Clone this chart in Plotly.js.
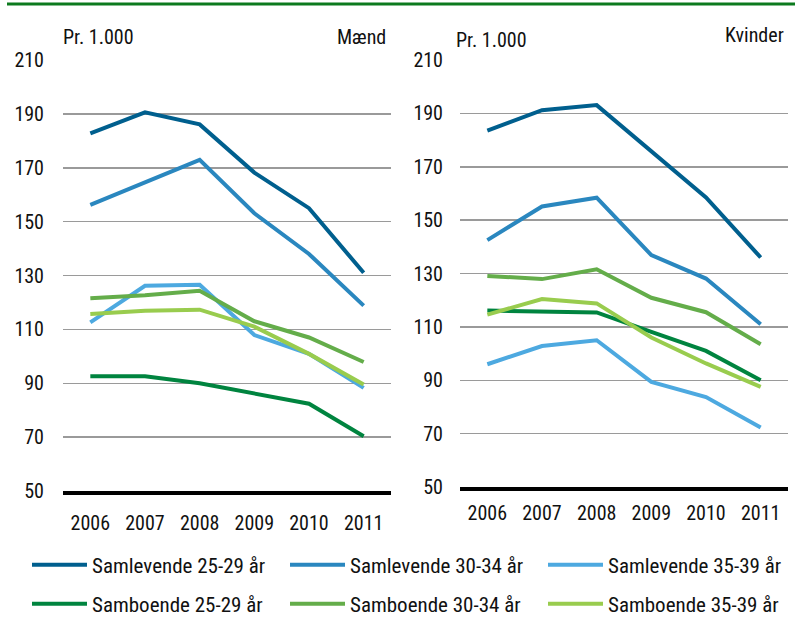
<!DOCTYPE html>
<html>
<head>
<meta charset="utf-8">
<script src="https://cdn.plot.ly/plotly-3.0.1.min.js"></script>
<style>html,body{margin:0;padding:0;background:#fff;}#chart{width:801px;height:625px;}</style>
</head>
<body>
<div id="chart"></div>
<script>
const years = ['2006','2007','2008','2009','2010','2011'];
const seriesNames = ['Samlevende 25-29 år','Samlevende 30-34 år','Samlevende 35-39 år','Samboende 25-29 år','Samboende 30-34 år','Samboende 35-39 år'];
const colors = ['#005f8e','#2a87bf','#4da9e0','#00843f','#64ad4a','#99cc4e'];

// Mænd
const maendSamlevende2529 = [182.8, 190.6, 186.1, 168.2, 155.0, 131.0];
const maendSamlevende3034 = [156.2, 164.7, 172.9, 153.1, 138.0, 118.8];
const maendSamlevende3539 = [112.6, 126.2, 126.6, 107.9, 100.9, 88.3];
const maendSamboende2529 = [92.6, 92.6, 90.0, 86.3, 82.4, 70.3];
const maendSamboende3034 = [121.6, 122.7, 124.3, 113.0, 107.0, 97.9];
const maendSamboende3539 = [115.7, 116.9, 117.3, 111.0, 100.9, 89.5];

// Kvinder
const kvinderSamlevende2529 = [183.5, 191.2, 193.1, 175.6, 158.5, 136.0];
const kvinderSamlevende3034 = [142.5, 155.1, 158.4, 136.9, 128.1, 111.0];
const kvinderSamlevende3539 = [96.0, 102.8, 105.0, 89.4, 83.7, 72.3];
const kvinderSamboende2529 = [116.1, 115.9, 115.4, 108.1, 101.0, 90.0];
const kvinderSamboende3034 = [129.1, 127.9, 131.6, 120.9, 115.5, 103.5];
const kvinderSamboende3539 = [114.6, 120.4, 118.8, 106.0, 96.3, 87.5];

const yTicks = [50, 70, 90, 110, 130, 150, 170, 190, 210];

const maend = [maendSamlevende2529, maendSamlevende3034, maendSamlevende3539, maendSamboende2529, maendSamboende3034, maendSamboende3539];
const kvinder = [kvinderSamlevende2529, kvinderSamlevende3034, kvinderSamlevende3539, kvinderSamboende2529, kvinderSamboende3034, kvinderSamboende3539];

const font = 'Liberation Sans Narrow, Arial Narrow, Roboto Condensed, sans-serif';
const FS = 20;
const traces = [];
maend.forEach((vals, i) => {
  traces.push({x: years, y: vals, type: 'scatter', mode: 'lines', name: seriesNames[i],
    line: {color: colors[i], width: 4}, xaxis: 'x', yaxis: 'y',
    legend: i < 3 ? 'legend' : 'legend2', showlegend: true});
});
kvinder.forEach((vals, i) => {
  traces.push({x: years, y: vals, type: 'scatter', mode: 'lines', name: seriesNames[i],
    line: {color: colors[i], width: 4}, xaxis: 'x2', yaxis: 'y2', showlegend: false});
});

const W = 801, H = 625;
const yAxisCommon = {
  range: [50, 210], tickvals: yTicks, ticktext: yTicks.map(String),
  showgrid: true, gridcolor: '#9a9a9a', gridwidth: 1.5, zeroline: false,
  showline: false, ticks: '', tickfont: {family: font, size: FS, color: '#111'}
};
const xAxisCommon = {
  type: 'category', range: [-0.5, 5.5], showgrid: false, zeroline: false,
  showline: true, linecolor: '#000', linewidth: 3.5, ticks: '',
  tickfont: {family: font, size: FS, color: '#111'}
};
const legendCommon = {orientation: 'h', x: 62/W, xanchor: 'left', yanchor: 'middle',
  entrywidth: 188, entrywidthmode: 'pixels', itemwidth: 55,
  font: {family: font, size: 21, color: '#111'}, bgcolor: 'rgba(0,0,0,0)'};

const layout = {
  width: W, height: H,
  margin: {l: 0, r: 0, t: 0, b: 0},
  paper_bgcolor: '#fff', plot_bgcolor: '#fff',
  font: {family: font, color: '#111'},
  xaxis: Object.assign({}, xAxisCommon, {domain: [63/W, 391/W], anchor: 'y', ticklabelstandoff: 11}),
  yaxis: Object.assign({}, yAxisCommon, {domain: [1 - 491/H, 1 - 60/H], anchor: 'x', ticklabelstandoff: 18}),
  xaxis2: Object.assign({}, xAxisCommon, {domain: [460/W, 788/W], anchor: 'y2', ticklabelstandoff: 5}),
  yaxis2: Object.assign({}, yAxisCommon, {domain: [1 - 487/H, 1 - 60/H], anchor: 'x2', ticklabelstandoff: 16}),
  legend: Object.assign({}, legendCommon, {y: 1 - 565/H}),
  legend2: Object.assign({}, legendCommon, {y: 1 - 604/H}),
  shapes: [
    {type: 'line', xref: 'paper', yref: 'paper', x0: 7/W, x1: 795/W, y0: 1 - 4/H, y1: 1 - 4/H,
     line: {color: '#0c7a1e', width: 3}}
  ],
  annotations: [
    {text: 'Pr. 1.000', xref: 'paper', yref: 'paper', x: 61/W, y: 1 - 37/H, xanchor: 'left', yanchor: 'middle', showarrow: false, font: {family: font, size: FS, color: '#111'}},
    {text: 'Mænd', xref: 'paper', yref: 'paper', x: 388/W, y: 1 - 37/H, xanchor: 'right', yanchor: 'middle', showarrow: false, font: {family: font, size: FS, color: '#111'}},
    {text: 'Pr. 1.000', xref: 'paper', yref: 'paper', x: 454/W, y: 1 - 40/H, xanchor: 'left', yanchor: 'middle', showarrow: false, font: {family: font, size: FS, color: '#111'}},
    {text: 'Kvinder', xref: 'paper', yref: 'paper', x: 786/W, y: 1 - 35/H, xanchor: 'right', yanchor: 'middle', showarrow: false, font: {family: font, size: FS, color: '#111'}}
  ]
};

Plotly.newPlot('chart', traces, layout, {displayModeBar: false, staticPlot: true});
</script>
</body>
</html>
